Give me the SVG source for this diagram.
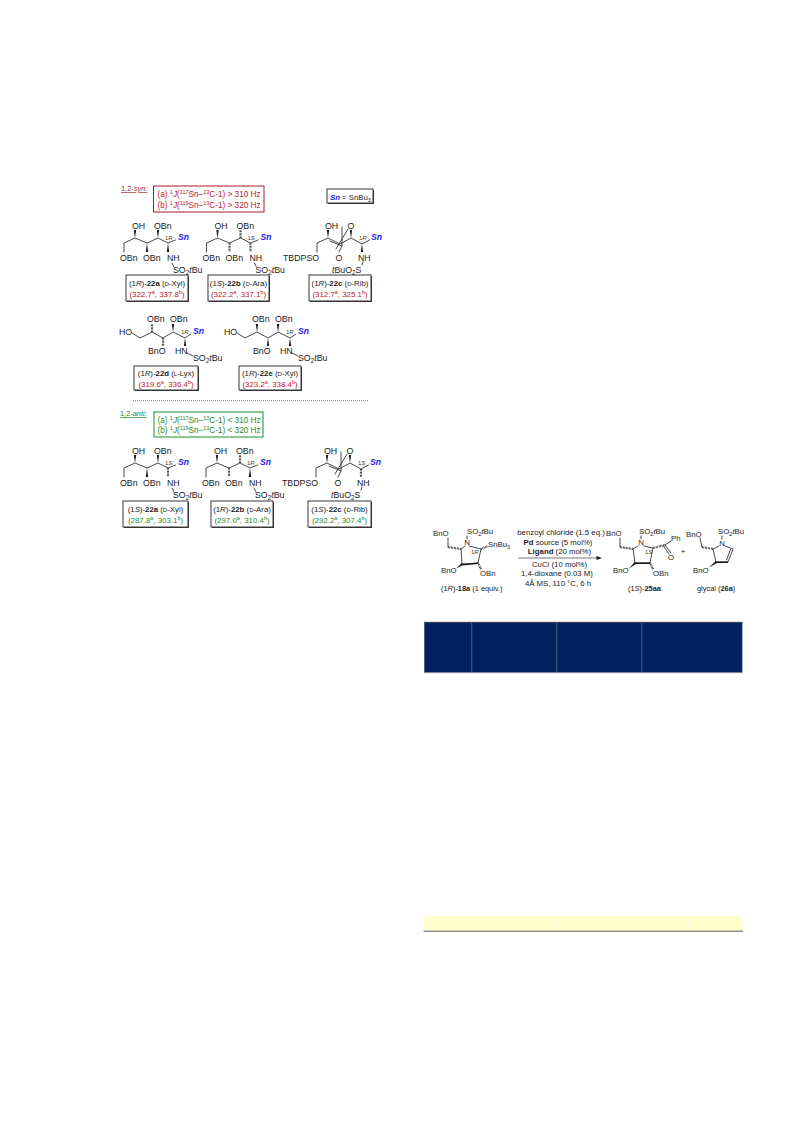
<svg xmlns="http://www.w3.org/2000/svg" width="793" height="1121" viewBox="0 0 793 1121">
<style>
text{font-family:"Liberation Sans",Arial,sans-serif;fill:#1a1a1a}
.a{font-size:8.8px}
.b{font-size:7.8px}
.c{font-size:7.8px}
.r{font-size:8.2px;fill:#c02030}
.g{font-size:8.2px;fill:#1f8a2a}
.rs{font-size:7.9px;fill:#c02030}
.gs{font-size:7.9px;fill:#1f8a2a}
.sn{font-size:8.6px;font-weight:bold;font-style:italic;fill:#1c1cf0}
.l{font-size:6px;fill:#444}
.m{text-anchor:middle}
.i{font-style:italic}
.w{font-weight:bold}
.u{font-size:68%;baseline-shift:2.6px}
.d{font-size:72%;baseline-shift:-1.6px}
.sc{font-size:78%}
.bd{fill:none;stroke:#1a1a1a;stroke-width:.8;stroke-linejoin:round;stroke-linecap:round}
.h{fill:none;stroke:#1a1a1a;stroke-width:2.2;stroke-dasharray:.7 .8}
.wd{fill:#1a1a1a}
.bx{fill:#fff;stroke:#222;stroke-width:.9}
.sh{fill:#444}
</style>
<rect width="793" height="1121" fill="#fff"/>

<g id="label-syn"><text x="121" y="191" font-size="7.4" style="fill:#b03038;text-decoration:underline">1,2-<tspan class="i">syn:</tspan></text></g>
<g id="rule-syn">
<rect x="153.500" y="186" width="110.500" height="26" fill="#fff" stroke="#b01828" stroke-width="1"/>
<text class="r" x="157.500" y="197">(a) <tspan class="u">1</tspan><tspan class="i">J</tspan>(<tspan class="u">117</tspan>Sn–<tspan class="u">13</tspan>C-1) &gt; 310 Hz</text>
<text class="r" x="157.500" y="208">(b) <tspan class="u">1</tspan><tspan class="i">J</tspan>(<tspan class="u">119</tspan>Sn–<tspan class="u">13</tspan>C-1) &gt; 320 Hz</text>
</g>
<g id="sn-legend">
<rect class="sh" x="328" y="190" width="46" height="14"/>
<rect class="bx" x="327" y="189" width="46" height="14"/>
<text x="330" y="199.500" class="sn" style="font-size:8px">Sn</text><text class="b" x="342" y="199.500">= SnBu<tspan class="d">3</tspan></text>
</g>

<g id="s22a-syn">
<path class="bd" d="M124 252V243L135 238L147 243L158 238L168 243L175.500 240M172 263L174 267"/>
<path class="wd" d="M135 238L133.800 230H136.200ZM147 243L145.800 252H148.200ZM158 238L156.800 230H159.200ZM168 243L166.800 252H169.200Z"/>
<text class="a" x="132" y="229">OH</text><text class="a" x="154" y="229">OBn</text><text class="a" x="120" y="261">OBn</text><text class="a" x="143" y="261">OBn</text><text class="a" x="167" y="261">NH</text>
<text class="a" x="173" y="273">SO<tspan class="d">2</tspan><tspan class="i">t</tspan>Bu</text>
<text class="sn" x="178" y="240">Sn</text><text class="l" x="165" y="240">1<tspan class="i">R</tspan></text>
</g>
<g id="box22a-syn"><rect class="sh" x="127" y="276" width="62" height="26"/><rect class="bx" x="126" y="275" width="62" height="26"/>
<text class="b m" x="157" y="286">(1<tspan class="i">R</tspan>)-<tspan class="w">22a</tspan> (<tspan class="sc">D</tspan>-Xyl)</text>
<text class="rs m" x="157" y="297">(322.7<tspan class="u">a</tspan>, 337.8<tspan class="u">b</tspan>)</text></g>

<g id="s22b-syn" transform="translate(82.500 0)">
<path class="bd" d="M124 252V243L135 238L147 243L158 238L168 243L175.500 240M172 263L174 267"/>
<path class="wd" d="M135 238L133.800 230H136.200Z"/>
<path class="h" d="M147 243V252M158 238V230M168 243V252"/>
<text class="a" x="132" y="229">OH</text><text class="a" x="154" y="229">OBn</text><text class="a" x="120" y="261">OBn</text><text class="a" x="143" y="261">OBn</text><text class="a" x="167" y="261">NH</text>
<text class="a" x="173" y="273">SO<tspan class="d">2</tspan><tspan class="i">t</tspan>Bu</text>
<text class="sn" x="178" y="240">Sn</text><text class="l" x="165" y="240">1<tspan class="i">S</tspan></text>
</g>
<g id="box22b-syn"><rect class="sh" x="209" y="276" width="61" height="26"/><rect class="bx" x="208" y="275" width="61" height="26"/>
<text class="b m" x="238.500" y="286">(1<tspan class="i">S</tspan>)-<tspan class="w">22b</tspan> (<tspan class="sc">D</tspan>-Ara)</text>
<text class="rs m" x="238.500" y="297">(322.2<tspan class="u">a</tspan>, 337.1<tspan class="u">b</tspan>)</text></g>

<g id="s22c-syn">
<path class="bd" d="M317 252V243L328 238L340 244L351 238L362 244L369.500 240M363 262L362 265M348 229L336 249M342 227L342 246L330 241M342 246L339 252"/>
<path class="wd" d="M328 238L326.800 230H329.200ZM351 238L349.800 230H352.200ZM362 244L360.800 252H363.200Z"/>
<text class="a" x="325" y="229">OH</text><text class="a m" x="351" y="229">O</text><text class="a m" x="339" y="261">O</text><text class="a" x="283" y="261">TBDPSO</text><text class="a" x="358" y="261">NH</text>
<text class="a" x="332" y="273"><tspan class="i">t</tspan>BuO<tspan class="d">2</tspan>S</text>
<text class="sn" x="371" y="240">Sn</text><text class="l" x="359" y="240">1<tspan class="i">R</tspan></text>
</g>
<g id="box22c-syn"><rect class="sh" x="310" y="276" width="62" height="26"/><rect class="bx" x="309" y="275" width="62" height="26"/>
<text class="b m" x="340" y="286">(1<tspan class="i">R</tspan>)-<tspan class="w">22c</tspan> (<tspan class="sc">D</tspan>-Rib)</text>
<text class="rs m" x="340" y="297">(312.7<tspan class="u">a</tspan>, 325.1<tspan class="u">b</tspan>)</text></g>

<g id="s22d">
<path class="bd" d="M132 333L140 338L152 332L163 338L173 332L185 338L191 334M187 353L193 356"/>
<path class="wd" d="M173 332L171.800 324H174.200ZM185 338L183.800 346H186.200Z"/>
<path class="h" d="M152 332V324M163 338V346"/>
<text class="a" x="119" y="335">HO</text><text class="a" x="147" y="322">OBn</text><text class="a" x="170" y="322">OBn</text><text class="a" x="148" y="354">BnO</text><text class="a" x="175" y="354">HN</text>
<text class="a" x="193" y="361">SO<tspan class="d">2</tspan><tspan class="i">t</tspan>Bu</text>
<text class="sn" x="193" y="334">Sn</text><text class="l" x="181" y="334">1<tspan class="i">R</tspan></text>
</g>
<g id="box22d"><rect class="sh" x="135" y="367" width="64" height="24"/><rect class="bx" x="134" y="366" width="64" height="24"/>
<text class="b m" x="166" y="376">(1<tspan class="i">R</tspan>)-<tspan class="w">22d</tspan> (<tspan class="sc">L</tspan>-Lyx)</text>
<text class="rs m" x="166" y="386.500">(319.6<tspan class="u">a</tspan>, 336.4<tspan class="u">b</tspan>)</text></g>

<g id="s22e" transform="translate(105 0)">
<path class="bd" d="M132 333L140 338L152 332L163 338L173 332L185 338L191 334M187 353L193 356"/>
<path class="wd" d="M152 332L150.800 324H153.200ZM163 338L161.800 346H164.200ZM173 332L171.800 324H174.200ZM185 338L183.800 346H186.200Z"/>
<text class="a" x="119" y="335">HO</text><text class="a" x="147" y="322">OBn</text><text class="a" x="170" y="322">OBn</text><text class="a" x="148" y="354">BnO</text><text class="a" x="175" y="354">HN</text>
<text class="a" x="193" y="361">SO<tspan class="d">2</tspan><tspan class="i">t</tspan>Bu</text>
<text class="sn" x="193" y="334">Sn</text><text class="l" x="181" y="334">1<tspan class="i">R</tspan></text>
</g>
<g id="box22e"><rect class="sh" x="240" y="367" width="62" height="24"/><rect class="bx" x="239" y="366" width="62" height="24"/>
<text class="b m" x="270" y="376">(1<tspan class="i">R</tspan>)-<tspan class="w">22e</tspan> (<tspan class="sc">D</tspan>-Xyl)</text>
<text class="rs m" x="270" y="386.500">(323.2<tspan class="u">a</tspan>, 338.4<tspan class="u">b</tspan>)</text></g>

<g id="connectors"><line x1="133" y1="400.700" x2="368" y2="400.700" stroke="#777" stroke-width="1" stroke-dasharray="1 1"/></g>

<g id="label-anti"><text x="120" y="416" font-size="7.4" style="fill:#1f8a2a;text-decoration:underline">1,2-<tspan class="i">anti:</tspan></text></g>
<g id="rule-anti">
<rect x="154" y="412" width="109" height="25" fill="#fff" stroke="#149028" stroke-width="1"/>
<text class="g" x="157.500" y="423">(a) <tspan class="u">1</tspan><tspan class="i">J</tspan>(<tspan class="u">117</tspan>Sn–<tspan class="u">13</tspan>C-1) &lt; 310 Hz</text>
<text class="g" x="157.500" y="433">(b) <tspan class="u">1</tspan><tspan class="i">J</tspan>(<tspan class="u">119</tspan>Sn–<tspan class="u">13</tspan>C-1) &lt; 320 Hz</text>
</g>

<g id="s22a-anti" transform="translate(0 225)">
<path class="bd" d="M124 252V243L135 238L147 243L158 238L168 243L175.500 240M172 263L174 267"/>
<path class="wd" d="M135 238L133.800 230H136.200ZM147 243L145.800 252H148.200ZM158 238L156.800 230H159.200Z"/>
<path class="h" d="M168 243V252"/>
<text class="a" x="132" y="229">OH</text><text class="a" x="154" y="229">OBn</text><text class="a" x="120" y="261">OBn</text><text class="a" x="143" y="261">OBn</text><text class="a" x="167" y="261">NH</text>
<text class="a" x="173" y="273">SO<tspan class="d">2</tspan><tspan class="i">t</tspan>Bu</text>
<text class="sn" x="178" y="240">Sn</text><text class="l" x="165" y="240">1<tspan class="i">S</tspan></text>
</g>
<g id="box22a-anti"><rect class="sh" x="124" y="502" width="65" height="26"/><rect class="bx" x="123" y="501" width="65" height="26"/>
<text class="b m" x="155.500" y="512">(1<tspan class="i">S</tspan>)-<tspan class="w">22a</tspan> (<tspan class="sc">D</tspan>-Xyl)</text>
<text class="gs m" x="155.500" y="523">(287.8<tspan class="u">a</tspan>, 303.1<tspan class="u">b</tspan>)</text></g>

<g id="s22b-anti" transform="translate(82 225)">
<path class="bd" d="M124 252V243L135 238L147 243L158 238L168 243L175.500 240M172 263L174 267"/>
<path class="wd" d="M135 238L133.800 230H136.200ZM168 243L166.800 252H169.200Z"/>
<path class="h" d="M147 243V252M158 238V230"/>
<text class="a" x="132" y="229">OH</text><text class="a" x="154" y="229">OBn</text><text class="a" x="120" y="261">OBn</text><text class="a" x="143" y="261">OBn</text><text class="a" x="167" y="261">NH</text>
<text class="a" x="173" y="273">SO<tspan class="d">2</tspan><tspan class="i">t</tspan>Bu</text>
<text class="sn" x="178" y="240">Sn</text><text class="l" x="165" y="240">1<tspan class="i">R</tspan></text>
</g>
<g id="box22b-anti"><rect class="sh" x="212" y="502" width="62" height="26"/><rect class="bx" x="211" y="501" width="62" height="26"/>
<text class="b m" x="242" y="512">(1<tspan class="i">R</tspan>)-<tspan class="w">22b</tspan> (<tspan class="sc">D</tspan>-Ara)</text>
<text class="gs m" x="242" y="523">(297.0<tspan class="u">a</tspan>, 310.4<tspan class="u">b</tspan>)</text></g>

<g id="s22c-anti" transform="translate(-1 225)">
<path class="bd" d="M317 252V243L328 238L340 244L351 238L362 244L369.500 240M363 262L362 265M348 229L336 249M342 227L342 246L330 241M342 246L339 252"/>
<path class="wd" d="M328 238L326.800 230H329.200ZM351 238L349.800 230H352.200Z"/>
<path class="h" d="M362 244V252"/>
<text class="a" x="325" y="229">OH</text><text class="a m" x="351" y="229">O</text><text class="a m" x="339" y="261">O</text><text class="a" x="283" y="261">TBDPSO</text><text class="a" x="358" y="261">NH</text>
<text class="a" x="332" y="273"><tspan class="i">t</tspan>BuO<tspan class="d">2</tspan>S</text>
<text class="sn" x="371" y="240">Sn</text><text class="l" x="359" y="240">1<tspan class="i">S</tspan></text>
</g>
<g id="box22c-anti"><rect class="sh" x="309" y="502" width="63" height="26"/><rect class="bx" x="308" y="501" width="63" height="26"/>
<text class="b m" x="339.500" y="512">(1<tspan class="i">S</tspan>)-<tspan class="w">22c</tspan> (<tspan class="sc">D</tspan>-Rib)</text>
<text class="gs m" x="339.500" y="523">(292.2<tspan class="u">a</tspan>, 307.4<tspan class="u">b</tspan>)</text></g>

<g id="s18a">
<path class="bd" d="M448 538V547M461 549L465 546M467 539V536M469 546L481 549L478 563L462 564L461 549"/>
<path class="h" d="M448 547L461 549M481 549L488 546M478 563L481 569"/>
<path class="wd" d="M462 562.800L463 565L456 568.500ZM462 564L478 562.500V564L462 565.500Z"/>
<text class="c" x="433" y="536">BnO</text><text class="c" x="467" y="533.500">SO<tspan class="d">2</tspan><tspan class="i">t</tspan>Bu</text><text class="c m" x="467" y="545">N</text>
<text class="c" x="488" y="547">SnBu<tspan class="d">3</tspan></text><text class="l" x="471" y="554">1<tspan class="i">R</tspan></text>
<text class="c" x="441" y="573">BnO</text><text class="c" x="480" y="576">OBn</text>
<text class="c" x="441" y="590.500" style="font-size:7.4px">(1<tspan class="i">R</tspan>)-<tspan class="w">18a</tspan> (1 equiv.)</text>
</g>

<g id="conditions">
<text class="c m" x="561" y="534.500">benzoyl chloride (1.5 eq.)</text>
<text class="c m" x="558" y="544.500"><tspan class="w">Pd</tspan> source (5 mol%)</text>
<text class="c m" x="559.500" y="553.500"><tspan class="w">Ligand</tspan> (20 mol%)</text>
<line x1="518" y1="558" x2="598" y2="558" stroke="#666" stroke-width=".9"/>
<path d="M602 558L596.500 556V560Z" fill="#1a1a1a"/>
<text class="c m" x="559.500" y="566.500">CuCl (10 mol%)</text>
<text class="c m" x="557" y="576">1,4-dioxane (0.03 M)</text>
<text class="c m" x="558" y="585.500">4Å MS, 110 °C, 6 h</text>
</g>

<g id="s25aa">
<path class="bd" d="M620 538V547M633 549L638 546M641 539V536M644 546L653 548L650 563L635 563L633 549M665 545L671 541M665 545L671 553M663.500 546L669 554"/>
<path class="h" d="M620 547L633 549M653 548L665 545M650 563L653 569"/>
<path class="wd" d="M635 561.800L636 564L629 568.500ZM635 562.500H650V564H635Z"/>
<text class="c" x="606" y="536">BnO</text><text class="c" x="639" y="533.500">SO<tspan class="d">2</tspan><tspan class="i">t</tspan>Bu</text><text class="c m" x="641" y="545">N</text>
<text class="c" x="671" y="541">Ph</text><text class="c m" x="671" y="560">O</text><text class="l" x="645" y="554">1<tspan class="i">S</tspan></text>
<text class="c" x="613" y="573">BnO</text><text class="c" x="653" y="576">OBn</text>
<text class="c" x="628" y="590.500" style="font-size:7.4px">(1<tspan class="i">S</tspan>)-<tspan class="w">25aa</tspan></text>
</g>
<g id="plus"><text class="c m" x="683" y="554">+</text></g>
<g id="s26a">
<path class="bd" d="M700 538L702 547M713 549L719 546M722 539V536M725 546L733 549L728 562L716 562L713 549M730.500 549.500L726.500 560"/>
<path class="h" d="M702 547L713 549"/>
<path class="wd" d="M716 560.800L717 563L709 567.500ZM716 561.500H728V563H716Z"/>
<text class="c" x="686" y="536.500">BnO</text><text class="c" x="718" y="533.500">SO<tspan class="d">2</tspan><tspan class="i">t</tspan>Bu</text><text class="c m" x="722" y="545.500">N</text>
<text class="c" x="693" y="573">BnO</text>
<text class="c" x="697" y="590.500" style="font-size:7.4px">glycal (<tspan class="w">26a</tspan>)</text>
</g>

<g id="table">
<rect x="424.300" y="622.300" width="318" height="50.400" fill="#002060"/>
<path d="M424 622.300H742.500" stroke="#333" stroke-width=".8" fill="none"/>
<path d="M424 672.700H742.500" stroke="#999" stroke-width=".8" fill="none"/>
<path d="M471.700 622.500V672.500M556.700 622.500V672.500M641.700 622.500V672.500" stroke="#5a6d97" stroke-width=".8" fill="none"/>
<path d="M742.300 622.500V672.500" stroke="#7f9bd0" stroke-width=".6" fill="none"/>
<rect x="424.300" y="916" width="318" height="15" fill="#ffffcc"/>
<path d="M471.700 916V931M556.700 916V931M641.700 916V931M688.500 916V931" stroke="#ffffe6" stroke-width=".7" fill="none"/>
<path d="M423.500 931.200H743" stroke="#444" stroke-width=".9" fill="none"/>
</g>
</svg>
